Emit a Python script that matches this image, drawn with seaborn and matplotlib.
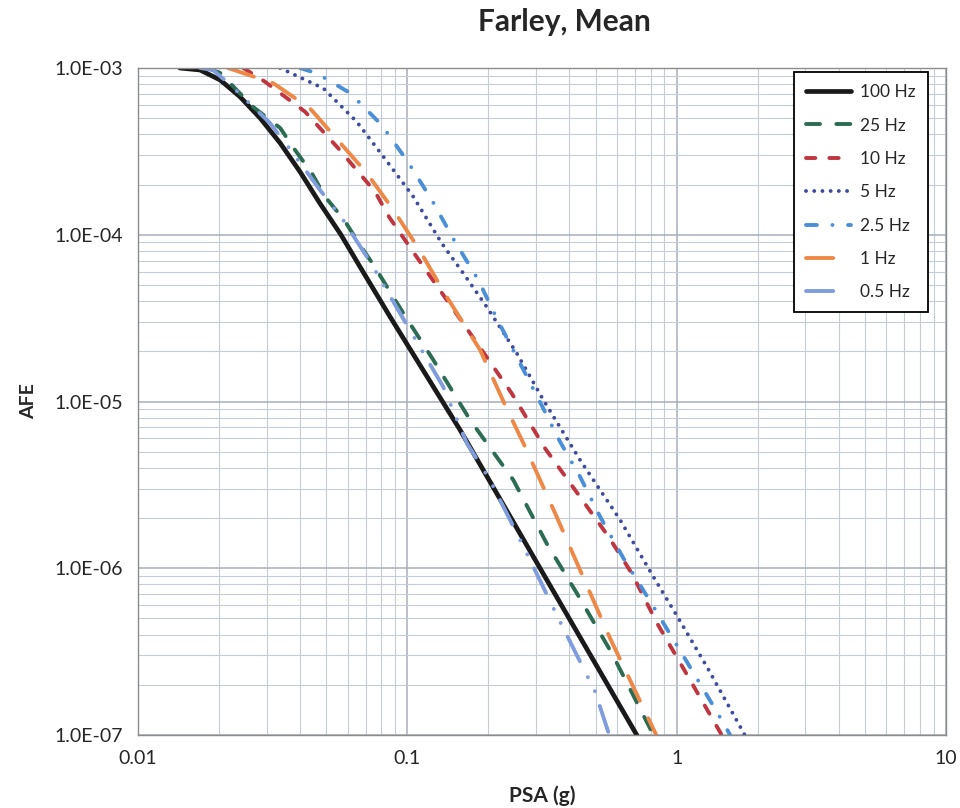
import numpy as np
import pandas as pd
import matplotlib
matplotlib.use("Agg")
import matplotlib.pyplot as plt
import seaborn as sns
from matplotlib.ticker import LogLocator, NullFormatter, FuncFormatter, FixedLocator

sns.set_style("whitegrid")
plt.rcParams['font.family'] = ['Lato', 'DejaVu Sans']

# Hazard curves: PSA (g) vs annual frequency of exceedance
psa_100hz = [0.0143, 0.017, 0.0202, 0.0239, 0.0284, 0.0337, 0.040, 0.0474, 0.0567, 0.0667, 0.0863, 0.157, 0.311, 0.711]
afe_100hz = [1.0e-3, 9.73e-4, 8.47e-4, 6.73e-4, 5.01e-4, 3.55e-4, 2.38e-4, 1.54e-4, 1.0e-4, 6.43e-5, 3.22e-5, 6.75e-6, 1.0e-6, 1.0e-7]

psa_25hz = [0.0181, 0.0202, 0.0267, 0.0337, 0.0383, 0.0442, 0.0495, 0.0582, 0.0667, 0.0749, 0.0968, 0.125, 0.171, 0.2475, 0.329, 0.426, 0.574, 0.82]
afe_25hz = [1.0e-3, 9.33e-4, 5.86e-4, 4.37e-4, 3.22e-4, 2.34e-4, 1.69e-4, 1.23e-4, 8.68e-5, 6.59e-5, 3.37e-5, 1.77e-5, 7.75e-6, 3.38e-6, 1.41e-6, 7.08e-7, 3.1e-7, 1.0e-7]

psa_10hz = [0.0246, 0.0296, 0.0417, 0.0554, 0.0759, 0.0855, 0.105, 0.132, 0.1835, 0.244, 0.3245, 0.42, 0.558, 0.681, 0.849, 1.084, 1.47]
afe_10hz = [1.0e-3, 8.28e-4, 5.47e-4, 3.3e-4, 1.81e-4, 1.28e-4, 7.91e-5, 4.66e-5, 2.18e-5, 1.12e-5, 5.24e-6, 2.94e-6, 1.55e-6, 9.33e-7, 4.63e-7, 2.35e-7, 1.0e-7]

psa_5hz = [0.0337, 0.0488, 0.0649, 0.0815, 0.1053, 0.1342, 0.1614, 0.197, 0.2548, 0.32, 0.4378, 0.6166, 0.819, 1.015, 1.294, 1.79]
afe_5hz = [1.0e-3, 7.55e-4, 4.76e-4, 2.94e-4, 1.69e-4, 8.89e-5, 5.87e-5, 3.7e-5, 1.95e-5, 1.02e-5, 4.46e-6, 1.95e-6, 8.9e-7, 5.01e-7, 2.57e-7, 1.0e-7]

psa_2p5hz = [0.040, 0.0461, 0.0613, 0.0803, 0.1009, 0.124, 0.149, 0.1835, 0.2163, 0.2584, 0.3083, 0.369, 0.4378, 0.5195, 0.634, 0.785, 0.945, 1.153, 1.409, 1.58]
afe_2p5hz = [1.0e-3, 9.29e-4, 7.08e-4, 4.55e-4, 2.71e-4, 1.59e-4, 9.3e-5, 5.35e-5, 3.08e-5, 1.77e-5, 1.02e-5, 5.74e-6, 3.54e-6, 2.04e-6, 1.15e-6, 6.6e-7, 4.03e-7, 2.37e-7, 1.38e-7, 1.0e-7]

psa_1hz = [0.0216, 0.0318, 0.0435, 0.0707, 0.0887, 0.1099, 0.14, 0.1862, 0.2306, 0.2735, 0.3536, 0.4378, 0.566, 0.84]
afe_1hz = [1.0e-3, 8.1e-4, 5.73e-4, 2.34e-4, 1.41e-4, 8.3e-5, 4.25e-5, 2.04e-5, 9.53e-6, 5.36e-6, 2.14e-6, 9.76e-7, 3.8e-7, 1.0e-7]

psa_0p5hz = [0.017, 0.019, 0.02225, 0.0309, 0.0376, 0.0474, 0.0577, 0.0727, 0.098, 0.1357, 0.1662, 0.2028, 0.2776, 0.369, 0.498, 0.562]
afe_0p5hz = [1.0e-3, 9.73e-4, 7.8e-4, 4.68e-4, 3.09e-4, 1.855e-4, 1.23e-4, 6.89e-5, 3.01e-5, 1.23e-5, 5.64e-6, 3.38e-6, 1.23e-6, 4.78e-7, 1.82e-7, 1.0e-7]

labels = ['100 Hz', '25 Hz', '10 Hz', '5 Hz', '2.5 Hz', '1 Hz', '0.5 Hz']
series_x = [psa_100hz, psa_25hz, psa_10hz, psa_5hz, psa_2p5hz, psa_1hz, psa_0p5hz]
series_y = [afe_100hz, afe_25hz, afe_10hz, afe_5hz, afe_2p5hz, afe_1hz, afe_0p5hz]

colors = ['#1a1a1a', '#2b6c52', '#bf3640', '#3f4c9e', '#4a8fd8', '#ee8846', '#7f9ddc']
styles = ['-', (0, (3.6, 4.2)), (0, (2.4, 3.6)), (0, (0.01, 2.1)),
          (0, (2.8, 4.0, 0.01, 4.0)), (0, (7.0, 5.0)), (0, (7.0, 4.6, 0.01, 4.0, 0.01, 4.0))]
widths = [3.4, 2.8, 2.8, 2.8, 2.8, 2.8, 2.8]

fig = plt.figure(figsize=(9.6, 8.08), dpi=100)
ax = fig.add_axes([138 / 960, 1 - 735 / 808, 808 / 960, 667 / 808])

for lab, xs, ys, c, ls, lw in zip(labels, series_x, series_y, colors, styles, widths):
    df = pd.DataFrame({'PSA': xs, 'AFE': ys})
    sns.lineplot(data=df, x='PSA', y='AFE', ax=ax, color=c, linestyle=ls, linewidth=lw,
                 label=lab, estimator=None, errorbar=None, dash_capstyle='round',
                 solid_capstyle='round')

ax.set_xscale('log')
ax.set_yscale('log')
ax.set_xlim(0.01, 10)
ax.set_ylim(1e-7, 1e-3)

ax.xaxis.set_major_locator(FixedLocator([0.01, 0.1, 1, 10]))
ax.xaxis.set_major_formatter(FuncFormatter(lambda v, p: f"{v:g}"))
ax.yaxis.set_major_locator(FixedLocator([1e-7, 1e-6, 1e-5, 1e-4, 1e-3]))
ax.yaxis.set_major_formatter(FuncFormatter(lambda v, p: f"{v:.1E}"))
for axis in (ax.xaxis, ax.yaxis):
    axis.set_minor_locator(LogLocator(base=10, subs=np.arange(2, 10), numticks=20))
    axis.set_minor_formatter(NullFormatter())

ax.grid(which='major', color='#a7aeb9', linewidth=1.1)
ax.grid(which='minor', color='#c6ccd5', linewidth=0.8)
ax.set_facecolor('white')
for s in ax.spines.values():
    s.set_color('#8c8c8c')
    s.set_linewidth(1.0)

ax.tick_params(axis='both', which='major', direction='out', length=5, width=1,
               color='#8c8c8c', labelsize=14, labelcolor='#262626', pad=6)
ax.tick_params(axis='both', which='minor', length=0)

ax.set_xlabel('PSA (g)', fontsize=15, fontweight='bold', color='#262626')
ax.set_ylabel('AFE', fontsize=14, fontweight='bold', color='#262626')
ax.xaxis.set_label_coords(0.5, -0.075)
ax.yaxis.set_label_coords(-0.125, 0.5)
fig.text(564 / 960, 1 - 22 / 808, 'Farley, Mean', fontsize=21.5, fontweight='bold',
         color='#262626', ha='center', va='center')

leg = ax.legend(loc='upper right', bbox_to_anchor=(0.978, 0.994), frameon=True,
                fancybox=False, edgecolor='black', framealpha=1, handlelength=2.6,
                labelspacing=1.0, fontsize=12.5, borderpad=0.7, handletextpad=0.55,
                borderaxespad=0)
leg.get_frame().set_linewidth(1.3)
for t in leg.get_texts():
    t.set_color('#262626')

fig.savefig('out.png', dpi=100)
